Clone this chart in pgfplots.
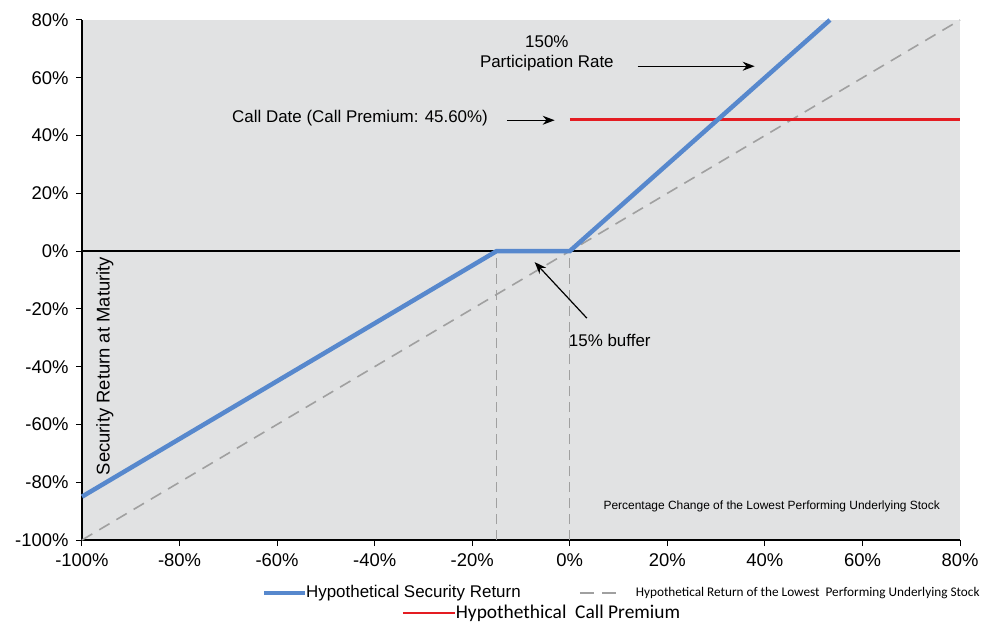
\documentclass[border=0pt]{standalone}
\usepackage{fontspec}
\setmainfont{Liberation Sans}
\newfontfamily\calibri{Carlito}
\usepackage{pgfplots}
\pgfplotsset{compat=1.18}
\usetikzlibrary{arrows.meta}
\definecolor{secblue}{RGB}{87,136,205}
\definecolor{callred}{RGB}{228,28,34}
\definecolor{dashgray}{RGB}{160,160,160}
\definecolor{bggray}{RGB}{225,226,227}
\begin{document}
\begin{tikzpicture}
\useasboundingbox (-82bp,-82bp) rectangle (910bp,540bp);
\begin{axis}[
  at={(0,0)}, anchor=south west,
  scale only axis, width=878bp, height=520bp,
  xmin=-100, xmax=80, ymin=-100, ymax=80,
  xtick={-100,-80,...,80}, ytick={-100,-80,...,80},
  axis x line*=bottom, axis y line*=left,
  axis line style={black, line width=1.2bp, -},
  tick align=outside, major tick length=6bp,
  tick style={black, line width=1bp},
  xticklabel={\pgfmathparse{int(round(\tick))}\pgfmathresult\%},
  yticklabel={\pgfmathparse{int(round(\tick))}\pgfmathresult\%},
  ticklabel style={font=\fontsize{18.5}{21}\selectfont},
  xticklabel style={yshift=-4bp},
  yticklabel style={xshift=-4bp},
  axis background/.style={fill=bggray},
  clip=false,
]
% zero line
\addplot [black, line width=1.8bp] coordinates {(-100,0) (80,0)};
% underlying stock return
\addplot [dashgray, line width=1.6bp, dash pattern=on 12bp off 8bp] coordinates {(-100,-100) (80,80)};
% buffer markers
\addplot [dashgray, line width=1.2bp, dash pattern=on 10bp off 6bp] coordinates {(-15,-100) (-15,0)};
\addplot [dashgray, line width=1.2bp, dash pattern=on 10bp off 6bp] coordinates {(0,-100) (0,0)};
% call premium
\addplot [callred, line width=2.4bp] coordinates {(0,45.6) (80,45.6)};
% security return
\addplot [secblue, line width=4.5bp] coordinates {(-100,-85) (-15,0) (0,0) (53.33,80)};

\node[font=\fontsize{17}{20}\selectfont, align=center] at (axis cs:-4.7,68.5) {150\%\\Participation Rate};
\draw[line width=1.2bp, -{Stealth[length=12bp,width=9bp]}] (axis cs:13.9,64) -- (axis cs:37.9,64);
\node[font=\fontsize{17}{20}\selectfont] at (axis cs:-43,46) {Call Date (Call Premium: 45.60\%)};
\draw[line width=1.2bp, -{Stealth[length=12bp,width=9bp]}] (axis cs:-12.9,45.3) -- (axis cs:-3.1,45.3);
\node[font=\fontsize{17}{20}\selectfont] at (axis cs:8.2,-30.8) {15\% buffer};
\draw[line width=1.2bp, -{Stealth[length=12bp,width=9bp]}] (axis cs:3.5,-23.2) -- (axis cs:-7.2,-3.8);
\node[rotate=90, font=\fontsize{18.5}{21}\selectfont] at (axis cs:-95.3,-39.8) {Security Return at Maturity};
\node[font=\fontsize{12}{14}\selectfont] at (axis cs:41.4,-88.3) {Percentage Change of the Lowest Performing Underlying Stock};

% legend
\draw[secblue, line width=4.5bp] (axis cs:-62.6,-118.4) -- (axis cs:-54.3,-118.4);
\node[anchor=west, inner sep=1bp, font=\fontsize{17}{20}\selectfont] at (axis cs:-54.3,-118.4) {Hypothetical Security Return};
\draw[dashgray, line width=1.6bp, dash pattern=on 14bp off 8bp] (axis cs:2.05,-118.4) -- (axis cs:10.25,-118.4);
\node[anchor=west, inner sep=1bp, font=\calibri\fontsize{13.3}{15}\selectfont] at (axis cs:13.3,-118.4) {Hypothetical Return of the Lowest\ \ Performing Underlying Stock};
\draw[callred, line width=2.4bp] (axis cs:-34.2,-125.3) -- (axis cs:-23.6,-125.3);
\node[anchor=west, inner sep=1bp, font=\calibri\fontsize{19.5}{22}\selectfont] at (axis cs:-23.6,-125.3) {Hypothethical\ \ Call Premium};
\end{axis}
\end{tikzpicture}
\end{document}
